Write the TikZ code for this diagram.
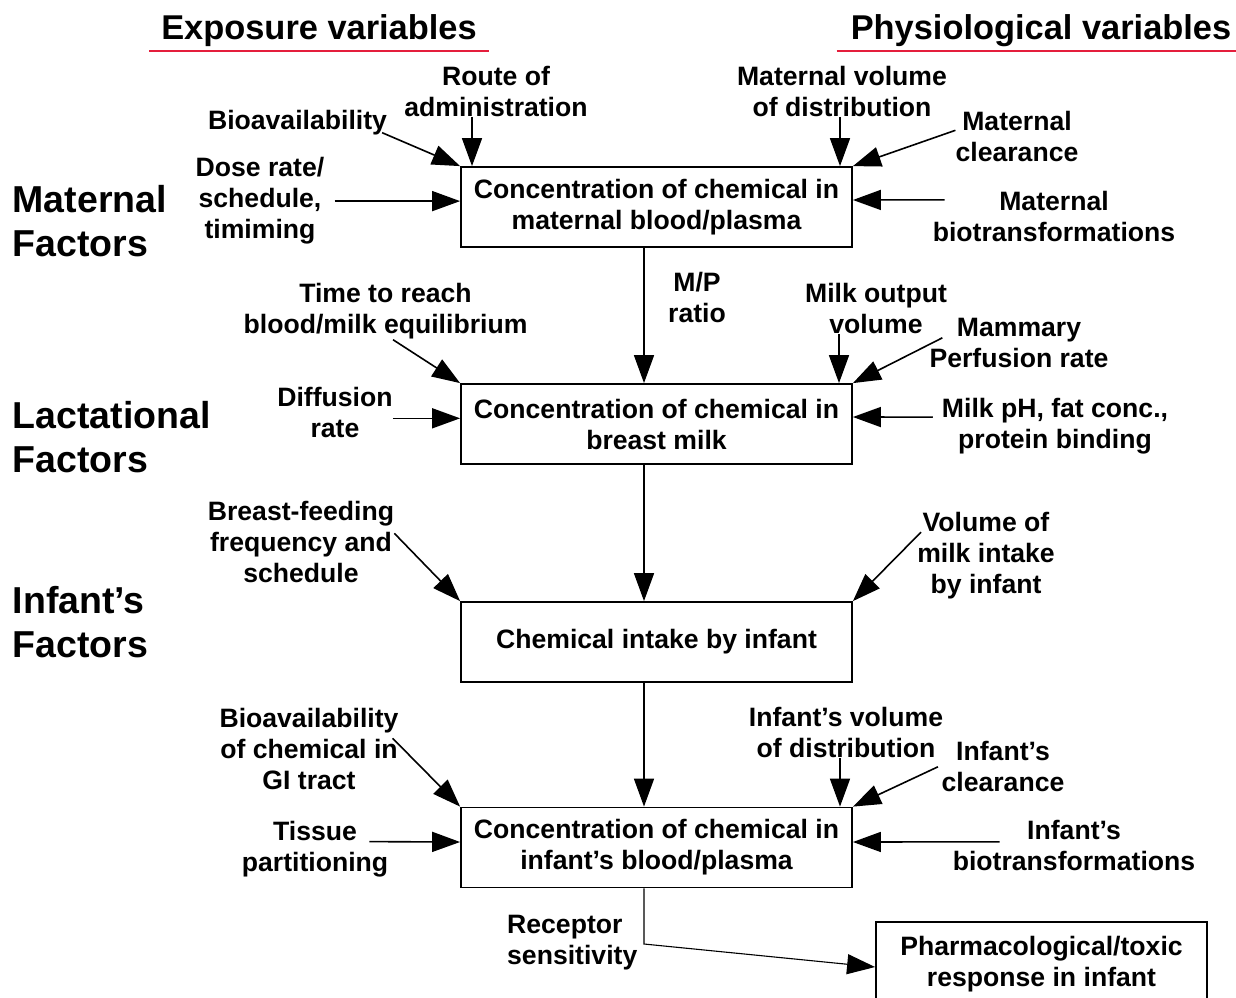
\documentclass[tikz,border=0pt]{standalone}
\usepackage{fontspec}
\setmainfont{Liberation Sans}
\usetikzlibrary{arrows.meta}
\definecolor{ulred}{RGB}{228,30,60}

\begin{document}
\begin{tikzpicture}[x=1pt, y=-1pt,
  box/.style={draw, line width=1.8pt, minimum width=391pt, minimum height=80pt, inner sep=0pt, align=center, font=\fontsize{26.6}{31}\selectfont\bfseries},
  lbl/.style={inner sep=0pt, align=center, font=\fontsize{26.6}{31}\selectfont\bfseries},
  factor/.style={anchor=west, inner sep=0pt, align=left, font=\fontsize{37.5}{44}\selectfont\bfseries},
  heading/.style={anchor=base, inner sep=0pt, font=\fontsize{34.4}{40}\selectfont\bfseries},
  arr/.style={line width=1.6pt, -{Triangle[length=28pt,width=20pt]}}]
\useasboundingbox (0,0) rectangle (1236,997);
\coordinate (spine) at (644,0);

% headings
\node[heading] (expo) at (319,39) {Exposure variables};
\node[heading] (phys) at (1041,39) {Physiological variables};
\draw[ulred, line width=2pt] ([xshift=-12pt,yshift=-12pt]expo.base west) -- ([xshift=12pt,yshift=-12pt]expo.base east);
\draw[ulred, line width=2pt] ([xshift=-14pt,yshift=-12pt]phys.base west) -- ++(420,0);

% factors
\node[factor] (matf) at (12.5,221.5) {Maternal\\Factors};
\node[factor] (lacf) at (12.5,437.5) {Lactational\\Factors};
\node[factor] (inff) at (12.5,622) {Infant’s\\Factors};

% boxes
\node[box] (m1) at (656.5,207) {Concentration of chemical in\\maternal blood/plasma};
\node[box] (m2) at (656.5,424) {Concentration of chemical in\\breast milk};
\node[box] (m3) at (656.5,642) {Chemical intake by infant};
\node[box] (m4) at (656.5,847.5) {Concentration of chemical in\\infant’s blood/plasma};
\node[box, minimum width=331pt, minimum height=84pt] (m5) at (1041.5,964) {Pharmacological/toxic\\response in infant};

% maternal
\node[lbl] (route) at (496,91.3) {Route of\\administration};
\node[lbl] (bioav) at (297.5,123.1) {Bioavailability};
\node[lbl] (dose) at (260,201.1) {Dose rate/\\schedule,\\timiming};
\node[lbl] (mvol) at (842,91.3) {Maternal volume\\of distribution};
\node[lbl] (mclr) at (1017,136.3) {Maternal\\clearance};
\node[lbl] (mbio) at (1054,216.8) {Maternal\\biotransformations};
\draw[arr] ([xshift=-5pt,yshift=3pt]bioav.south east) -- (m1.north west);
\draw[arr] ([xshift=-24pt]route.south) -- ([xshift=-24pt]route.south |- m1.north);
\draw[arr] ([xshift=10pt]dose.east) -- (dose.east -| m1.west);
\draw[arr] ([xshift=-2pt]mvol.south) -- ([xshift=-2pt]mvol.south |- m1.north);
\draw[arr] ([yshift=6pt]mclr.west) -- (m1.north east);
\draw[arr] ([xshift=12pt,yshift=17pt]mbio.west) -- ([yshift=7pt]m1.east);
\node[lbl] (mp) at (697,297.8) {M/P\\ratio};
\draw[arr] (m1.south -| spine) -- (m2.north -| spine);

% lactational
\node[lbl] (time) at (385.5,311.6) {Time to reach\\blood/milk equilibrium};
\node[lbl] (diff) at (335,412.3) {Diffusion\\rate};
\node[lbl] (mout) at (876,308.8) {Milk output\\volume};
\node[lbl] (mamm) at (1019,342.8) {Mammary\\Perfusion rate};
\node[lbl] (mph) at (1055,426.1) {Milk pH, fat conc.,\\protein binding};
\draw[arr] ([xshift=7.5pt]time.south) -- (m2.north west);
\draw[arr] ([yshift=-6pt]diff.east) -- ([yshift=-6pt]diff.east -| m2.west);
\draw[arr] ([xshift=-37pt]mout.south) -- ([xshift=-37pt]mout.south |- m2.north);
\draw[arr] ([xshift=13pt,yshift=5pt]mamm.west) -- (m2.north east);
\draw[arr] ([xshift=-9pt,yshift=9pt]mph.west) -- ([yshift=7pt]m2.east);
\draw[arr] (m2.south -| spine) -- (m3.north -| spine);

% infant
\node[lbl] (bfeed) at (301,542.3) {Breast-feeding\\frequency and\\schedule};
\node[lbl] (vmilk) at (986,556.1) {Volume of\\milk intake\\by infant};
\draw[arr] ([yshift=9pt]bfeed.east) -- (m3.north west);
\draw[arr] ([xshift=4pt,yshift=24pt]vmilk.west) -- (m3.north east);
\draw[arr] (m3.south -| spine) -- (m4.north -| spine);

\node[lbl] (bgi) at (309,749.3) {Bioavailability\\of chemical in\\GI tract};
\node[lbl] (tiss) at (315,849.6) {Tissue\\partitioning};
\node[lbl] (ivol) at (846,732.8) {Infant’s volume\\of distribution};
\node[lbl] (iclr) at (1003,766.8) {Infant’s\\clearance};
\node[lbl] (ibio) at (1074,845.8) {Infant’s\\biotransformations};
\draw[arr] ([xshift=-6pt,yshift=11pt]bgi.east) -- (m4.north west);
\draw[arr] ([xshift=-19pt,yshift=8pt]tiss.east) -- ([yshift=5.5pt]m4.west);
\draw[arr] ([xshift=-6pt]ivol.south) -- ([xshift=-6pt]ivol.south |- m4.north);
\draw[arr] ([xshift=-3.5pt]iclr.west) -- (m4.north east);
\draw[arr] ([xshift=47pt,yshift=4pt]ibio.west) -- ([yshift=5.5pt]m4.east);

% response
\node[lbl, anchor=west, align=left] (rec) at (507,942.6) {Receptor\\sensitivity};
\coordinate (bend) at (644,944);
\draw[arr, line width=1.1pt] (m4.south -| spine) -- (bend) -- ([yshift=-3pt]m5.west);
\end{tikzpicture}
\end{document}
